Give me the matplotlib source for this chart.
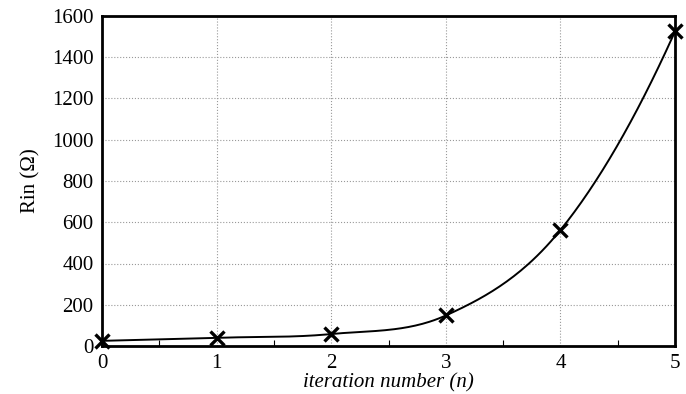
import numpy as np
import matplotlib.pyplot as plt

# Data
iterations = [0, 1, 2, 3, 4, 5]
rin_values = [25, 40, 58, 148, 562, 1525]


def smooth_curve(xs, ys, n=50):
    # cubic Hermite through the points; centred slopes inside,
    # quadratic-extrapolated slopes at both ends
    xs = np.asarray(xs, float)
    ys = np.asarray(ys, float)
    h = np.diff(xs)
    d = np.diff(ys) / h
    m = np.empty_like(ys)
    m[1:-1] = (ys[2:] - ys[:-2]) / (xs[2:] - xs[:-2])
    m[0] = 2 * d[0] - m[1]
    m[-1] = 2 * d[-1] - m[-2]
    out_x, out_y = [], []
    t = np.linspace(0, 1, n)
    h00 = 2 * t**3 - 3 * t**2 + 1
    h10 = t**3 - 2 * t**2 + t
    h01 = -2 * t**3 + 3 * t**2
    h11 = t**3 - t**2
    for i in range(len(xs) - 1):
        out_x.extend(xs[i] + t * h[i])
        out_y.extend(h00 * ys[i] + h10 * h[i] * m[i]
                     + h01 * ys[i + 1] + h11 * h[i] * m[i + 1])
    return out_x, out_y


plt.rcParams['font.family'] = ['Liberation Serif', 'DejaVu Serif']

fig = plt.figure(figsize=(6.86, 3.94), dpi=100)
ax = fig.add_axes([102 / 686, 1 - 346 / 394, 573 / 686, 330 / 394])

sx, sy = smooth_curve(iterations, rin_values)
ax.plot(sx, sy, color='black', linewidth=1.4, clip_on=False)
ax.plot(iterations, rin_values, linestyle='none', marker='x', markersize=10,
        markeredgewidth=2.4, color='black', clip_on=False, zorder=5)

ax.set_xlim(0, 5)
ax.set_ylim(0, 1600)
ax.set_xticks(range(6))
ax.set_yticks(range(0, 1601, 200))
ax.set_xticks(np.arange(0.5, 5, 1.0), minor=True)
ax.tick_params(axis='both', which='major', labelsize=15, length=0, pad=6)
ax.tick_params(axis='x', which='minor', direction='in', length=4, width=0.8)
ax.grid(True, which='major', linestyle=':', color='#999999', linewidth=0.8)

for s in ax.spines.values():
    s.set_linewidth(2)

ax.set_xlabel('iteration number (n)', fontsize=15, style='italic', labelpad=0)
ax.set_ylabel('Rin (Ω)', fontsize=15, labelpad=8)

fig.savefig('out.png', dpi=100)
